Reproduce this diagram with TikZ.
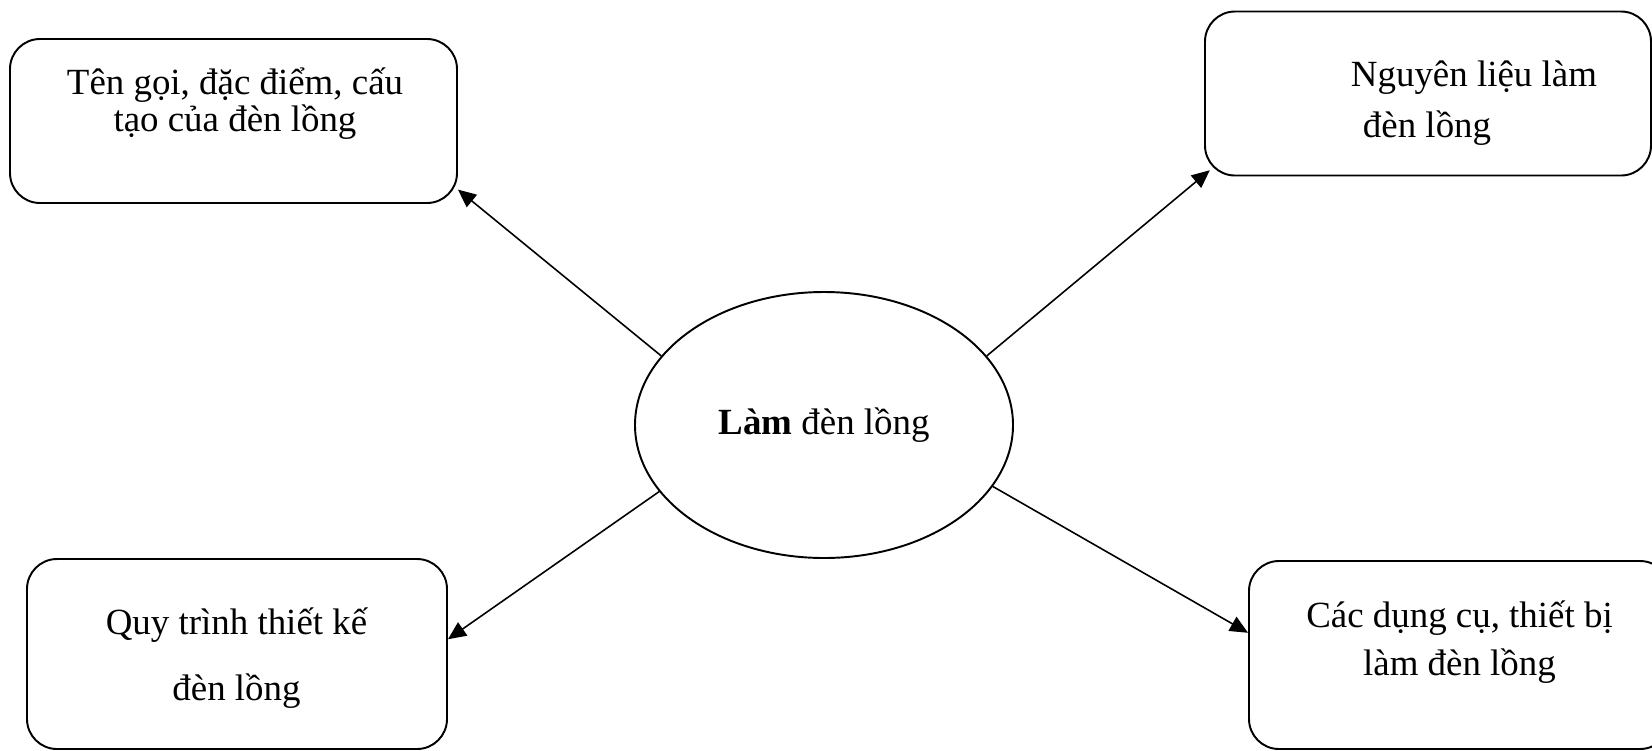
\documentclass[tikz,border=0pt]{standalone}
\usepackage{fontspec}
\setmainfont{Liberation Serif}
\usetikzlibrary{shapes.geometric,arrows.meta}
\begin{document}
\begin{tikzpicture}[line width=1.1pt]
    \useasboundingbox (0, 0) rectangle (33.04, -15);
    \begin{scope}[every node/.style={rectangle, draw, rounded corners=0.6cm, inner sep=0}]
      \node[minimum width=8.94cm, minimum height=3.28cm] (A) at (4.67, -2.42) {};
      \node[minimum width=8.92cm, minimum height=3.28cm] (B) at (28.56, -1.87) {};
      \node[minimum width=8.4cm, minimum height=3.8cm] (C) at (4.74, -13.08) {};
      \node[minimum width=8.42cm, minimum height=3.76cm] (D) at (29.19, -13.1) {};
    \end{scope}
    \node[ellipse, draw, minimum width=7.56cm, minimum height=5.32cm, inner sep=0,
      font=\fontsize{21}{24}\selectfont] (0) at (16.48, -8.5) {\textbf{Làm} đèn lồng};
    \begin{scope}[every node/.style={inner sep=0, anchor=base, align=center}]
      \node[font=\fontsize{21}{21}\selectfont] (a) at (4.7, -2.62)
        {Tên gọi, đặc điểm, cấu\\tạo của đèn lồng};
      \node[font=\fontsize{21}{28.5}\selectfont, anchor=base west, align=left] (b) at (27, -2.74)
        {Nguyên liệu làm\\\hspace{0.24cm}đèn lồng};
      \node[font=\fontsize{21}{37}\selectfont] (c) at (4.73, -14)
        {Quy trình thiết kế\\đèn lồng};
      \node[font=\fontsize{21}{26.8}\selectfont] (d) at (29.19, -13.5)
        {Các dụng cụ, thiết bị\\làm đèn lồng};
    \end{scope}

    \draw[-{Triangle[length=0.36cm, width=0.32cm]}, line width=0.9pt] (0.157) -- (A.-17);
    \draw[-{Triangle[length=0.36cm, width=0.32cm]}, line width=0.9pt, shorten >=-0.15cm] (0.23) -- (B.200.6);
    \draw[-{Triangle[length=0.36cm, width=0.32cm]}, line width=0.9pt] (0.202.5) -- (C.4.6);
    \draw[-{Triangle[length=0.36cm, width=0.32cm]}, line width=0.9pt] (0.-20.4) -- (D.174.9);
  \end{tikzpicture}
\end{document}
